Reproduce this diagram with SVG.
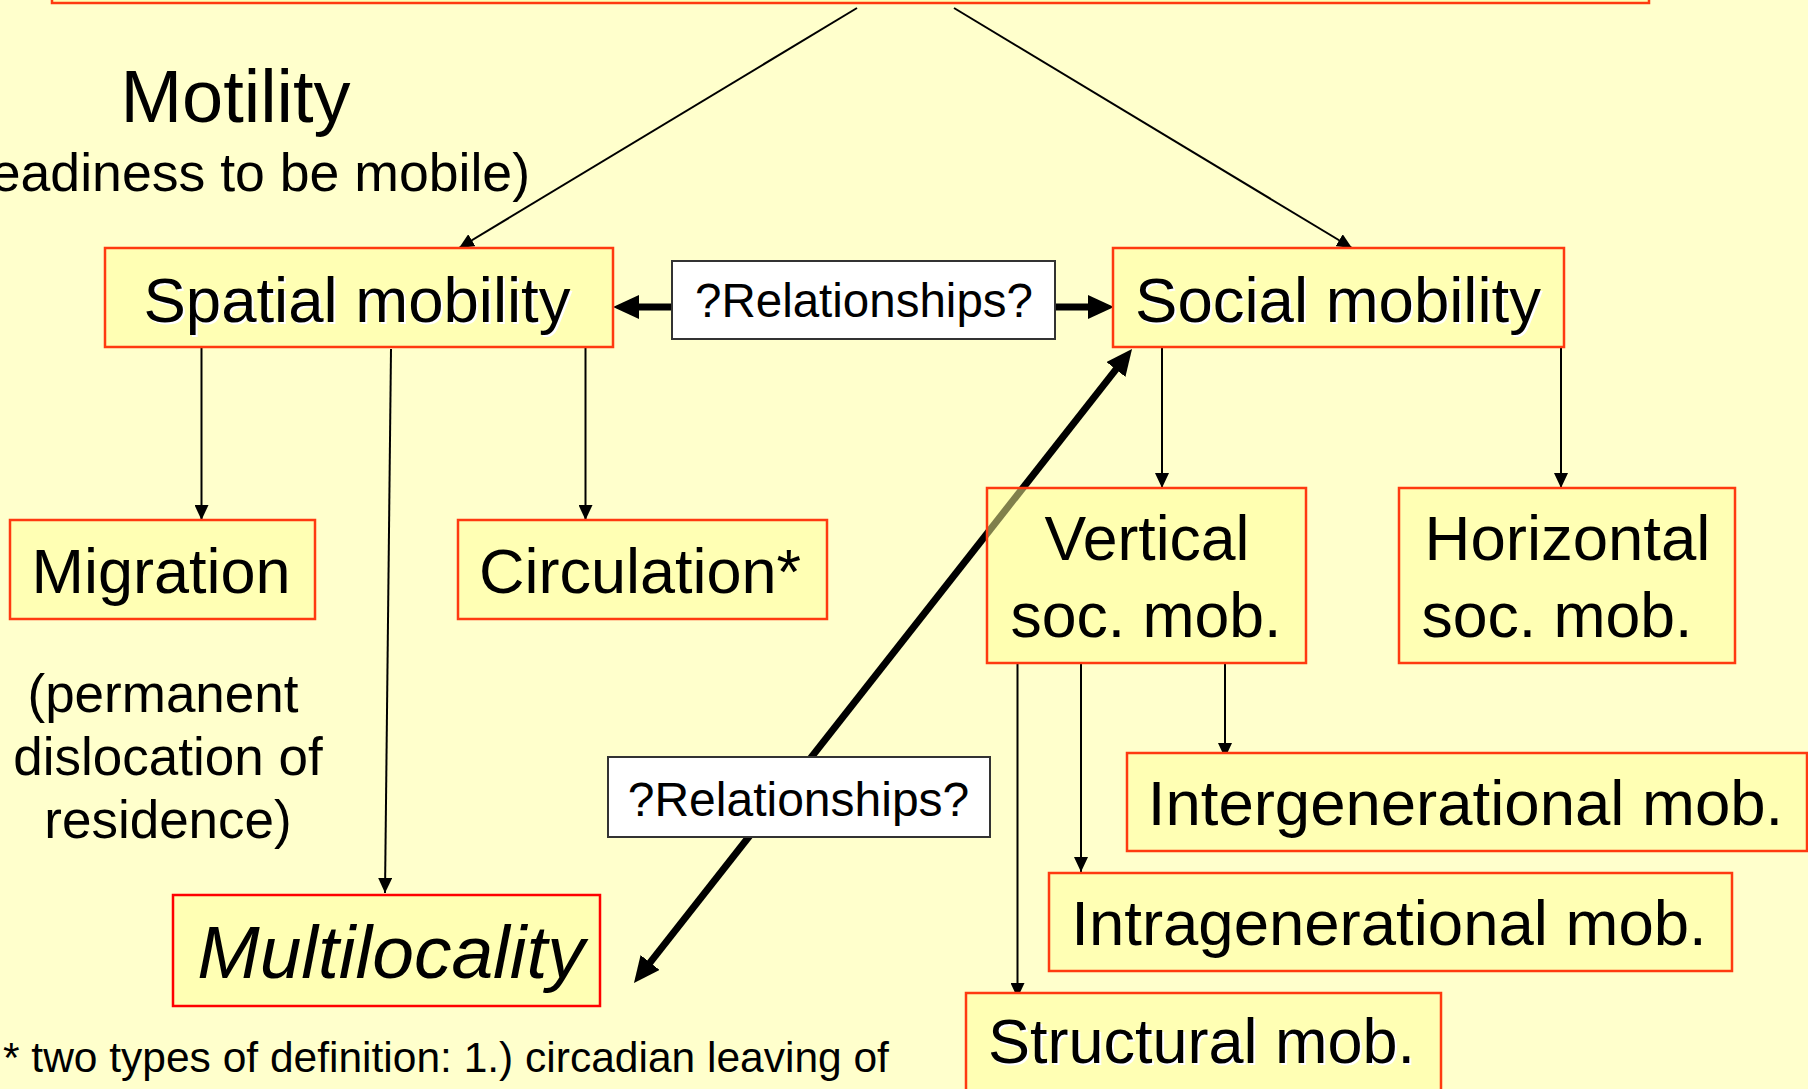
<svg xmlns="http://www.w3.org/2000/svg" width="1808" height="1089" viewBox="0 0 1808 1089">
<defs>
<style>
text{font-family:"Liberation Sans",Arial,sans-serif;fill:#000}
.box{fill:#FFFFB4;stroke:#FF3A10;stroke-width:2.5}
.rel{fill:#FFFFFF;stroke:#333333;stroke-width:2}
.thin{stroke:#000;stroke-width:2;fill:none;marker-end:url(#ah)}
.thick{stroke:#000;stroke-width:7;fill:none;marker-end:url(#ahb)}
.big{font-size:63.5px;text-anchor:middle}
.mid{font-size:53px;text-anchor:middle}
.rt{font-size:47.5px;text-anchor:middle}
.sh{fill:#FFFFFF}
</style>
<marker id="ah" markerUnits="userSpaceOnUse" markerWidth="15" markerHeight="14" refX="15" refY="7" orient="auto">
<path d="M0,0 L15,7 L0,14 z" fill="#000"/>
</marker>
<marker id="ahb" markerUnits="userSpaceOnUse" markerWidth="26" markerHeight="24" refX="8" refY="12" orient="auto-start-reverse">
<path d="M0,0 L26,12 L0,24 z" fill="#000"/>
</marker>
</defs>
<rect x="0" y="0" width="1808" height="1089" fill="#FFFFCC"/>

<g id="top-node"><rect class="box" x="52" y="-100" width="1597" height="103"/></g>

<g id="connectors">
<line class="thin" x1="857" y1="8" x2="459" y2="248"/>
<line class="thin" x1="954" y1="8" x2="1352" y2="248"/>
<line class="thin" x1="201.5" y1="347" x2="201.5" y2="520"/>
<line class="thin" x1="391" y1="349" x2="385" y2="893"/>
<line class="thin" x1="585.5" y1="347" x2="585.5" y2="520"/>
<line class="thin" x1="1162" y1="347" x2="1162" y2="488"/>
<line class="thin" x1="1561" y1="347" x2="1561" y2="488"/>
<line class="thin" x1="1225" y1="663" x2="1225" y2="758"/>
<line class="thin" x1="1081" y1="663" x2="1081" y2="872"/>
<line class="thin" x1="1017.5" y1="663" x2="1017.5" y2="998"/>
<line class="thick" x1="672" y1="307" x2="631" y2="307"/>
<line class="thick" x1="1055" y1="307" x2="1096" y2="307"/>
<line class="thick" x1="645.1" y1="968.8" x2="1120.9" y2="363.2" style="marker-start:url(#ahb)"/>
</g>

<g id="motility">
<text x="235.5" y="122" style="font-size:74px;text-anchor:middle">Motility</text>
<text x="530" y="191" style="font-size:53.6px;text-anchor:end">(readiness to be mobile)</text>
</g>

<g id="spatial">
<rect class="box" x="105" y="248" width="508" height="99"/>
<text class="big sh" x="359" y="324">Spatial mobility</text>
<text class="big" x="357" y="322">Spatial mobility</text>
</g>

<g id="rel1">
<rect class="rel" x="672" y="261" width="383" height="78"/>
<text class="rt" x="864" y="317">?Relationships?</text>
</g>

<g id="social">
<rect class="box" x="1113" y="248" width="451" height="99"/>
<text class="big sh" x="1340" y="324">Social mobility</text>
<text class="big" x="1338" y="322">Social mobility</text>
</g>

<g id="migration">
<rect class="box" x="10" y="520" width="305" height="99"/>
<text class="big" x="161" y="593" style="font-size:63px">Migration</text>
</g>

<g id="circulation">
<rect class="box" x="458" y="520" width="369" height="99"/>
<text class="big" x="640" y="593" style="font-size:63px">Circulation*</text>
</g>

<g id="migration-note">
<text class="mid" x="163" y="712">(permanent</text>
<text class="mid" x="168" y="775">dislocation of</text>
<text class="mid" x="168" y="838">residence)</text>
</g>

<g id="vertical">
<rect x="987" y="488" width="319" height="175" fill="#FFFF96" fill-opacity="0.5" stroke="#FF3A10" stroke-width="2.5"/>
<text class="big" x="1147" y="560" style="font-size:62.5px">Vertical</text>
<text class="big" x="1146" y="637" style="font-size:62.5px">soc. mob.</text>
</g>

<g id="horizontal">
<rect class="box" x="1399" y="488" width="336" height="175"/>
<text class="big" x="1567.5" y="560" style="font-size:63.5px">Horizontal</text>
<text class="big" x="1557" y="637" style="font-size:62.5px">soc. mob.</text>
</g>

<g id="rel2">
<rect class="rel" x="608" y="757" width="382" height="80"/>
<text class="rt" x="798.5" y="816" style="font-size:48px">?Relationships?</text>
</g>

<g id="intergenerational">
<rect class="box" x="1127" y="753" width="680" height="98"/>
<text class="big" x="1465.5" y="825">Intergenerational mob.</text>
</g>

<g id="intragenerational">
<rect class="box" x="1049" y="873" width="683" height="98"/>
<text class="big" x="1389" y="945">Intragenerational mob.</text>
</g>

<g id="multilocality">
<rect class="box" x="173" y="895" width="427" height="111" style="stroke:#FF0000"/>
<text x="391" y="978" style="font-size:75px;font-style:italic;text-anchor:middle">Multilocality</text>
</g>

<g id="structural">
<rect class="box" x="966" y="993" width="475" height="140"/>
<text class="big sh" x="1203.5" y="1065" style="font-size:63px">Structural mob.</text>
<text class="big" x="1201.5" y="1063" style="font-size:63px">Structural mob.</text>
</g>

<g id="footnote">
<text x="3" y="1072" style="font-size:42.5px">* two types of definition: 1.) circadian leaving of</text>
</g>
</svg>
